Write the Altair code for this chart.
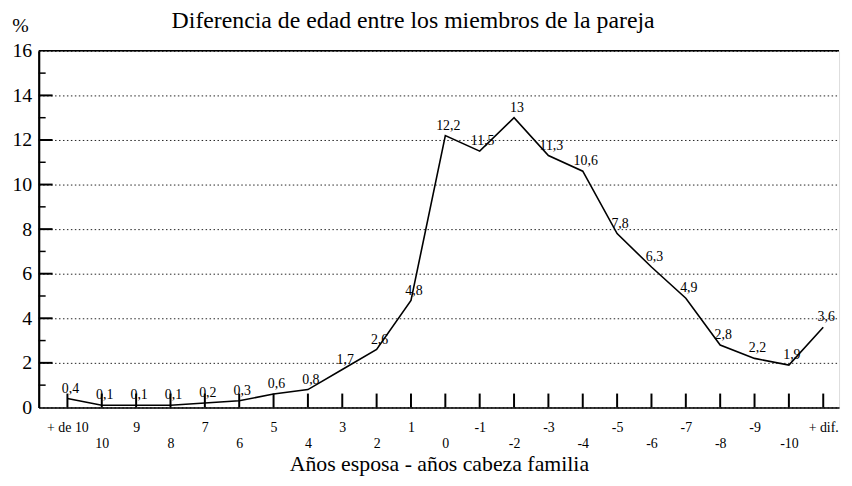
import altair as alt
import pandas as pd

categories = ["+ de 10", "10", "9", "8", "7", "6", "5", "4", "3", "2", "1", "0",
              "-1", "-2", "-3", "-4", "-5", "-6", "-7", "-8", "-9", "-10", "+ dif."]
values = [0.4, 0.1, 0.1, 0.1, 0.2, 0.3, 0.6, 0.8, 1.7, 2.6, 4.8, 12.2,
          11.5, 13, 11.3, 10.6, 7.8, 6.3, 4.9, 2.8, 2.2, 1.9, 3.6]
y_ticks_major = [2, 4, 6, 8, 10, 12, 14]
y_ticks_minor = [1, 3, 5, 7, 9, 11, 13, 15]
y_labels = [0, 2, 4, 6, 8, 10, 12, 14, 16]

df = pd.DataFrame({
    "idx": list(range(len(categories))),
    "cat": categories,
    "v": values,
    "lab": [f"{v:g}".replace(".", ",") for v in values],
})
major_df = pd.DataFrame({"v": y_ticks_major})
minor_df = pd.DataFrame({"v": y_ticks_minor})
top_df = pd.DataFrame({"v": [16]})

FONT = "Liberation Serif"
W, H = 808, 360

xscale = alt.Scale(domain=[-0.836, 22.46], nice=False, zero=False)
yscale = alt.Scale(domain=[0, 16], nice=False, zero=True)

cat_js = "[" + ",".join("'" + c + "'" for c in categories) + "]"
label_expr = f"datum.value % 2 == 1 ? ['', {cat_js}[datum.value]] : {cat_js}[datum.value]"

X = alt.X("idx:Q", scale=xscale, axis=alt.Axis(
    values=list(range(len(categories))), labelExpr=label_expr,
    title="Años esposa - años cabeza familia", ticks=False, grid=False,
    domainColor="black", domainWidth=1.5,
    labelFont=FONT, labelFontSize=14, labelColor="black", labelPadding=13,
    labelLineHeight=16, labelAngle=0, labelFlush=False, labelOverlap=False,
    titleFont=FONT, titleFontSize=22, titleFontWeight="normal", titleColor="black",
    titleBaseline="alphabetic", titleY=64))

Y = alt.Y("v:Q", scale=yscale, axis=alt.Axis(
    values=y_labels, title="%", titleAngle=0, titleX=-19, titleY=-26,
    titleAlign="center", titleBaseline="middle", titleFont=FONT, titleFontSize=20,
    titleFontWeight="normal", titleColor="black",
    grid=True, gridDash=[1.5, 2.5], gridColor="#222", gridWidth=1,
    ticks=False, domainColor="black", domainWidth=2.2,
    labelFont=FONT, labelFontSize=20, labelColor="black", labelPadding=7))

line = alt.Chart(df).mark_line(color="black", strokeWidth=1.6).encode(x=X, y=Y)

labels = alt.Chart(df).mark_text(
    font=FONT, fontSize=14, color="black", baseline="bottom", align="center", dx=3, dy=-3
).encode(x=X, y=Y, text="lab:N")

xticks = alt.Chart(df).mark_rule(color="black", strokeWidth=2).encode(
    x=X, y=alt.value(H), y2=alt.value(H - 14))

ymajor = alt.Chart(major_df).mark_rule(color="black", strokeWidth=2).encode(
    y=Y, x=alt.value(0), x2=alt.value(14))
yminor = alt.Chart(minor_df).mark_rule(color="black", strokeWidth=1.5).encode(
    y=Y, x=alt.value(0), x2=alt.value(7))
top = alt.Chart(top_df).mark_rule(color="black", strokeWidth=1.5).encode(
    y=Y, x=alt.value(0), x2=alt.value(W))

chart = alt.layer(top, ymajor, yminor, xticks, line, labels).properties(
    width=W, height=H,
    title=alt.Title("Diferencia de edad entre los miembros de la pareja",
                    font=FONT, fontSize=24, fontWeight="normal", color="black",
                    anchor="middle", dx=-26, dy=22),
    autosize=alt.AutoSizeParams(type="none"),
    padding={"left": 31, "top": 41, "right": 5, "bottom": 69},
).configure_view(stroke=None).configure(background="white")

chart.save("out.html", embed_options={"renderer": "svg", "actions": False})
